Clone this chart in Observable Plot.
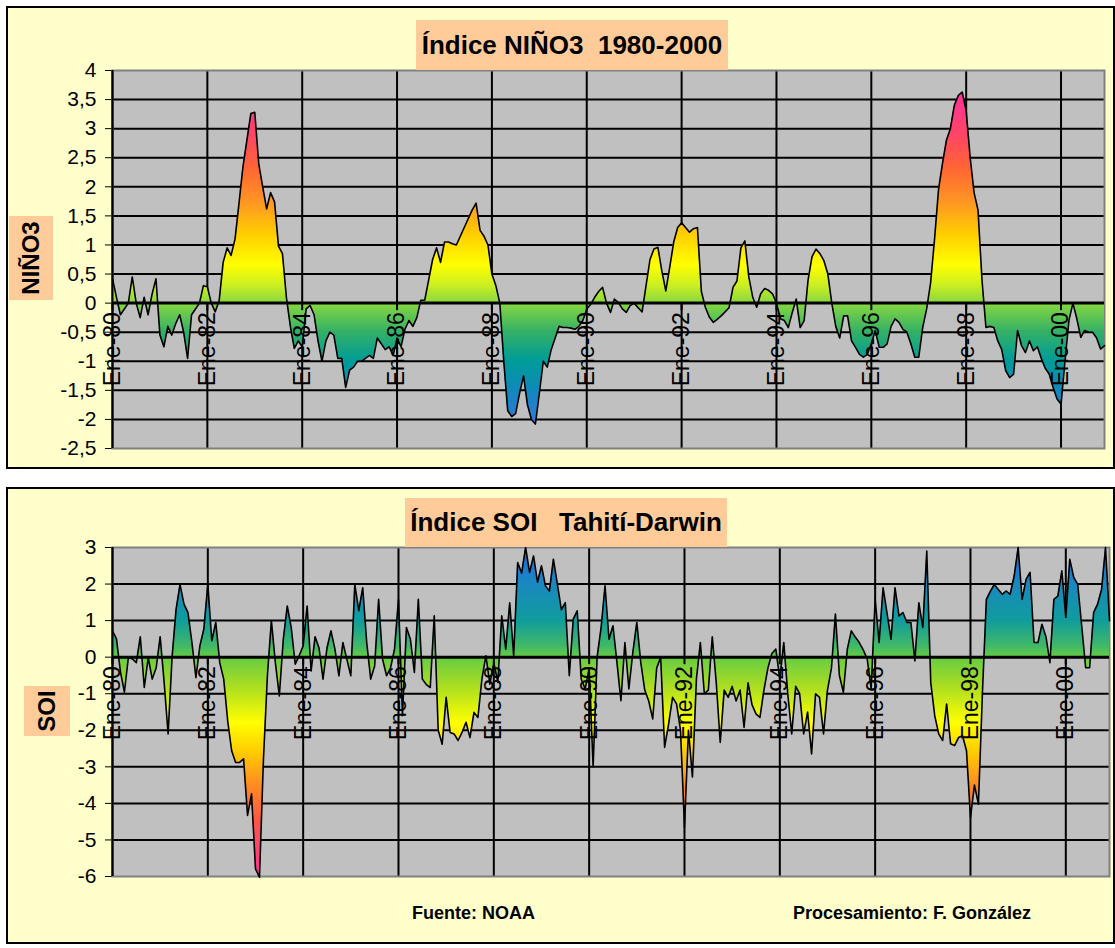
<!DOCTYPE html>
<html>
<head>
<meta charset="utf-8">
<script src="https://cdn.jsdelivr.net/npm/d3@7"></script>
<script src="https://cdn.jsdelivr.net/npm/@observablehq/plot@0.6"></script>
<style>
html,body{margin:0;padding:0;background:#fff;}
#wrap{position:relative;width:1115px;height:948px;overflow:hidden;font-family:"Liberation Sans",Arial,sans-serif;color:#000;}
.panel{position:absolute;box-sizing:border-box;background:#FFFFCC;border:2px solid #000;}
.chart{position:absolute;left:0;}
.title{position:absolute;background:#FFCC99;font-weight:bold;font-size:26px;display:flex;align-items:center;justify-content:center;white-space:pre;}
.ylab{position:absolute;background:#FFCC99;}
.ylab span{position:absolute;left:50%;top:50%;transform:translate(-50%,-50%) rotate(-90deg);font-weight:bold;font-size:24px;white-space:nowrap;}
.foot{position:absolute;font-weight:bold;font-size:18px;line-height:20px;white-space:nowrap;}
</style>
</head>
<body>
<div id="wrap">
  <div class="panel" style="left:6px;top:6px;width:1109px;height:463px;"></div>
  <div class="panel" style="left:6px;top:487px;width:1109px;height:457px;"></div>
  <div id="c1" class="chart" style="top:0px;"></div>
  <div id="c2" class="chart" style="top:480px;"></div>
  <div class="title" style="left:416px;top:20px;width:312px;height:50px;">Índice NIÑO3  1980-2000</div>
  <div class="title" style="left:405px;top:498px;width:322px;height:49px;">Índice SOI   Tahití-Darwin</div>
  <div class="ylab" style="left:9px;top:216px;width:44px;height:84px;"><span>NIÑO3</span></div>
  <div class="ylab" style="left:24px;top:686px;width:46px;height:50px;"><span>SOI</span></div>
  <div class="foot" style="left:412px;top:903px;">Fuente: NOAA</div>
  <div class="foot" style="left:793px;top:903px;">Procesamiento: F. González</div>
</div>
<script>
// Monthly values, Jan 1980 .. Dec 2000 (one row per year)
const nino3 = [
  0.42, 0.1, -0.2, -0.1, 0.0, 0.45, 0.0, -0.25, 0.1, -0.2, 0.15, 0.42,
  -0.55, -0.75, -0.4, -0.55, -0.35, -0.2, -0.5, -0.95, -0.2, -0.1, 0.0, 0.3,
  0.28, 0.0, -0.15, 0.05, 0.7, 0.95, 0.82, 1.1, 1.71, 2.34, 2.8, 3.26,
  3.28, 2.4, 2.0, 1.62, 1.9, 1.74, 0.98, 0.85, 0.1, -0.4, -0.78, -0.65,
  -0.75, -0.1, -0.04, -0.2, -0.65, -1.0, -0.65, -0.5, -0.55, -0.95, -0.95, -1.45,
  -1.15, -1.1, -1.0, -1.0, -0.95, -0.9, -0.95, -0.6, -0.7, -0.8, -0.75, -0.9,
  -0.6, -0.75, -0.45, -0.3, -0.4, -0.25, 0.05, 0.05, 0.4, 0.75, 0.95, 0.7,
  1.05, 1.05, 1.02, 1.0, 1.15, 1.3, 1.45, 1.6, 1.72, 1.25, 1.15, 1.0,
  0.5, 0.3, 0.0, -1.0, -1.85, -1.95, -1.9, -1.55, -1.25, -1.75, -2.0, -2.08,
  -1.55, -1.0, -1.1, -0.8, -0.6, -0.4, -0.42, -0.42, -0.43, -0.45, -0.4, -0.3,
  -0.1, -0.02, 0.1, 0.2, 0.27, 0.0, -0.16, 0.07, 0.01, -0.1, -0.16, -0.04,
  0.0, -0.08, -0.15, 0.3, 0.75, 0.93, 0.96, 0.55, 0.21, 0.62, 1.05, 1.3,
  1.38, 1.3, 1.22, 1.28, 1.3, 0.2, -0.07, -0.24, -0.33, -0.28, -0.22, -0.15,
  -0.08, 0.27, 0.38, 0.95, 1.07, 0.45, 0.1, -0.07, 0.16, 0.25, 0.22, 0.16,
  0.0, -0.27, -0.3, -0.42, -0.16, 0.07, -0.42, -0.3, 0.4, 0.8, 0.93, 0.85,
  0.73, 0.5, 0.0, -0.4, -0.6, -0.22, -0.22, -0.65, -0.76, -0.88, -0.93, -0.88,
  -0.7, -0.47, -0.76, -0.76, -0.7, -0.4, -0.27, -0.33, -0.45, -0.5, -0.7, -0.93,
  -0.93, -0.42, -0.1, 0.35, 1.1, 1.95, 2.4, 2.8, 3.0, 3.4, 3.57, 3.63,
  3.31, 2.51, 1.9, 1.6, 0.4, -0.42, -0.4, -0.42, -0.65, -0.8, -1.16, -1.28,
  -1.22, -0.47, -0.73, -0.85, -0.65, -0.82, -0.75, -0.95, -1.12, -1.22, -1.45, -1.65,
  -1.74, -1.0, -0.3, 0.0, -0.27, -0.59, -0.47, -0.5, -0.5, -0.6, -0.79, -0.73
];
const soi = [
  0.72, 0.5, -0.4, -0.96, 0.0, -0.05, -0.15, 0.56, -0.83, -0.01, -0.6, -0.29,
  0.56, -0.69, -2.1, 0.0, 1.3, 1.99, 1.45, 1.22, 0.4, -0.56, 0.31, 0.77,
  1.99, 0.45, 0.95, -0.15, -0.6, -1.74, -2.56, -2.88, -2.88, -2.78, -4.33, -3.74,
  -5.79, -6.02, -2.8, -0.5, 1.0, -0.15, -1.06, 0.49, 1.4, 0.81, -0.19, 0.04,
  0.31, 1.4, -0.38, 0.56, 0.25, -0.6, 0.25, 0.72, 0.22, -0.51, 0.4, -0.06,
  -0.51, 1.99, 1.27, 1.9, 0.4, -0.6, -0.24, 1.58, -0.06, -0.51, -0.29, 0.22,
  1.58, -1.6, 0.81, 0.49, -0.42, 1.58, -0.6, -0.75, -0.83, 1.13, -2.0, -2.38,
  -1.1, -2.06, -2.1, -2.28, -2.06, -1.78, -2.2, -1.51, -1.65, -0.6, 0.04, -0.74,
  -0.15, -0.69, 1.13, 0.22, 1.49, 0.04, 2.59, 2.3, 3.0, 2.32, 2.77, 2.05,
  2.5, 1.95, 1.81, 2.68, 2.0, 1.3, 1.49, -0.51, 1.04, 1.27, -0.6, -0.87,
  -0.3, -3.0, 0.0, 0.8, 1.95, 0.49, 0.86, -0.15, -1.19, 0.4, -0.87, 0.13,
  0.95, -0.15, -0.9, -1.2, -1.69, -0.3, 0.0, -2.47, -1.83, -1.1, -1.28, -2.0,
  -4.65, -2.0, -3.28, -0.6, 0.4, -1.0, -0.9, 0.56, -0.7, -2.33, -0.9, -1.1,
  -0.8, -1.2, -0.9, -1.92, -0.7, -1.3, -1.55, -1.65, -0.9, -0.3, 0.1, 0.22,
  -0.6, 0.4, -1.0, -2.1, -0.8, -1.0, -2.1, -1.5, -2.65, -1.0, -1.1, -2.1,
  -0.9, -0.3, 1.18, -0.5, -0.96, 0.22, 0.72, 0.55, 0.4, 0.2, -0.05, -0.87,
  1.58, 0.4, 1.9, 1.2, 0.49, 1.9, 1.13, 1.22, 0.95, 0.95, -0.1, 1.49,
  0.81, 2.9, -0.69, -1.6, -2.1, -2.28, -1.28, -2.37, -2.42, -2.2, -2.15, -2.56,
  -4.38, -3.5, -4.02, -1.0, 1.58, 1.8, 1.99, 1.85, 1.72, 1.81, 1.72, 2.22,
  3.0, 1.58, 2.13, 2.32, 0.4, 0.4, 0.9, 0.56, -0.15, 1.58, 1.67, 2.36,
  1.09, 2.68, 2.18, 1.99, 0.86, -0.29, -0.29, 1.22, 1.45, 1.85, 3.0, 1.0
];
const xTickLabels = ["Ene-80","Ene-82","Ene-84","Ene-86","Ene-88","Ene-90","Ene-92","Ene-94","Ene-96","Ene-98","Ene-00"];
const monthsPerTick = 24;
const ninoYTicks = [-2.5,-2,-1.5,-1,-0.5,0,0.5,1,1.5,2,2.5,3,3.5,4];
const soiYTicks = [-6,-5,-4,-3,-2,-1,0,1,2,3];
const ninoStopValues = [3.6, 2.9, 2.3, 1.7, 1.2, 0.65, 0.3, 0.0, -0.5, -1.0, -1.5, -2.1];
const ninoStopColors = ["#FF3399","#FF4466","#FF6633","#FF9922","#FFCC00","#FFFF00","#CCEE22","#88D840","#33B066","#009C99","#1188BB","#3377DD"];
const soiStopValues = [3.0, 2.0, 1.0, 0.3, 0.0, -0.8, -1.8, -2.6, -3.5, -4.5, -6.0];
const soiStopColors = ["#2266DD","#1A88C0","#109C9C","#40B868","#66CC44","#AADD22","#FFFF00","#FFCC00","#FF8C22","#FF5544","#FF3399"];

const xTickIdx = xTickLabels.map((_, k) => k * monthsPerTick);
const fmt = d => String(d).replace(".", ",");
const tickDown = {draw(ctx) { ctx.moveTo(0, 0); ctx.lineTo(0, 7); }};

function makeChart({values, yDomain, yTicks, stopValues, stopColors, id, height, mt, mb, mr}) {
  const data = values.map((v, i) => ({i, v}));
  const yGrid = yTicks.filter(v => v > yDomain[0] && v < yDomain[1] && v !== 0);
  const svg = Plot.plot({
    width: 1115, height,
    marginLeft: 112, marginRight: mr, marginTop: mt, marginBottom: mb,
    style: {background: "transparent", fontFamily: "'Liberation Sans', Arial, sans-serif", fontSize: "21px", color: "black", overflow: "visible"},
    x: {domain: [0, values.length - 1], axis: null},
    y: {domain: yDomain, ticks: yTicks, tickFormat: fmt, tickSize: 7, tickPadding: 9, label: null},
    marks: [
      Plot.frame({fill: "#C0C0C0"}),
      Plot.ruleY(yGrid, {stroke: "black", strokeWidth: 2}),
      Plot.ruleX(xTickIdx, {stroke: "black", strokeWidth: 2}),
      Plot.frame({stroke: "#808080", strokeWidth: 2}),
      Plot.areaY(data, {x: "i", y: "v", fill: `url(#${id})`}),
      Plot.lineY(data, {x: "i", y: "v", stroke: "black", strokeWidth: 1.6}),
      Plot.ruleY([0], {stroke: "black", strokeWidth: 3}),
      Plot.ruleX([0], {stroke: "black", strokeWidth: 2}),
      Plot.dot(xTickIdx, {x: d => d, y: 0, symbol: tickDown, fill: "none", stroke: "black", strokeWidth: 2}),
      Plot.text(xTickIdx, {x: d => d, y: 0, text: (d, k) => xTickLabels[k], rotate: -90, textAnchor: "end", dy: 9, fontSize: 23, fill: "black"})
    ]
  });
  const sy = svg.scale("y");
  const py = v => sy.range[0] + (v - sy.domain[0]) / (sy.domain[1] - sy.domain[0]) * (sy.range[1] - sy.range[0]);
  const ns = "http://www.w3.org/2000/svg";
  const defs = document.createElementNS(ns, "defs");
  const g = document.createElementNS(ns, "linearGradient");
  const y1 = py(stopValues[0]), y2 = py(stopValues[stopValues.length - 1]);
  g.setAttribute("id", id);
  g.setAttribute("gradientUnits", "userSpaceOnUse");
  g.setAttribute("x1", 0); g.setAttribute("x2", 0);
  g.setAttribute("y1", y1); g.setAttribute("y2", y2);
  stopValues.forEach((v, k) => {
    const s = document.createElementNS(ns, "stop");
    s.setAttribute("offset", (py(v) - y1) / (y2 - y1));
    s.setAttribute("stop-color", stopColors[k]);
    g.appendChild(s);
  });
  defs.appendChild(g);
  svg.insertBefore(defs, svg.firstChild);
  return svg;
}

document.getElementById("c1").appendChild(makeChart({
  values: nino3, yDomain: [-2.5, 4], yTicks: ninoYTicks,
  stopValues: ninoStopValues, stopColors: ninoStopColors, id: "gNino",
  height: 470, mt: 70, mb: 22, mr: 11
}));
document.getElementById("c2").appendChild(makeChart({
  values: soi, yDomain: [-6, 3], yTicks: soiYTicks,
  stopValues: soiStopValues, stopColors: soiStopColors, id: "gSoi",
  height: 468, mt: 67, mb: 72, mr: 6
}));
</script>
</body>
</html>
